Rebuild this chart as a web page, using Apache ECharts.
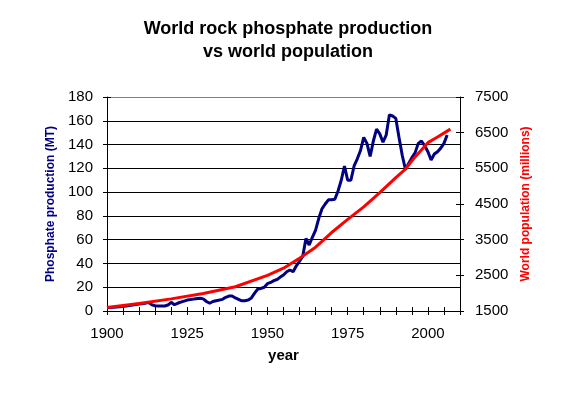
<!DOCTYPE html>
<html>
<head>
<meta charset="utf-8">
<script src="https://cdn.jsdelivr.net/npm/echarts@6/dist/echarts.min.js"></script>
<style>
html,body{margin:0;padding:0;background:#fff;}
#chart{width:576px;height:395px;}
</style>
</head>
<body>
<div id="chart"></div>
<script>
// ---- data ----
const phosYears = [1900,1902,1904,1906,1908,1910,1912,1913,1914,1915,1916,1918,1919,1920,1921,1922,1923,1925,1927,1929,1930,1931,1932,1933,1934,1936,1937,1938,1939,1940,1941,1942,1943,1944,1945,1946,1947,1948,1949,1950,1951,1952,1953,1954,1955,1956,1957,1958,1959,1960,1961,1962,1963,1964,1965,1966,1967,1968,1969,1970,1971,1972,1973,1974,1975,1976,1977,1978,1979,1980,1981,1982,1983,1984,1985,1986,1987,1988,1989,1990,1991,1992,1993,1994,1995,1996,1997,1998,1999,2000,2001,2002,2003,2004,2005,2006];
const phosValues = [3,3.2,3.6,4.3,5,5.8,6.6,7.2,5.2,4.4,4.2,4.2,5,7.3,5.3,6.5,7.5,9.2,10,10.7,10.2,8,6.5,8,8.6,9.8,11.5,12.6,12.6,11,9.8,8.6,8.6,9.2,11,15,18.5,19,20,23,24,25.5,26.5,28.5,30.3,33,34.5,33,38,42,46,61,55.5,62,68,78,86,90,93.5,93.5,94,101,110,122,110,110,122,128,135,146,141,130,143,153,149,142,148,165,164,162,146,131,119,124,129,133,141,143,139,134,127,132,134,137,141,148];
const popYears = [1900,1910,1920,1930,1940,1950,1955,1960,1965,1970,1975,1980,1985,1990,1993,1996,2000,2003,2007];
const popValues = [1600,1710,1840,1990,2180,2500,2700,2980,3290,3700,4070,4420,4820,5240,5480,5820,6220,6380,6600];
const titleLines = ['World rock phosphate production','vs world population'];
const leftAxisName = 'Phosphate production (MT)';
const rightAxisName = 'World population (millions)';
const xAxisName = 'year';

const FONT = 'Liberation Sans, Arial, sans-serif';
const phosData = phosYears.map((y,i)=>[y, phosValues[i]]);
const popData = popYears.map((y,i)=>[y, popValues[i]]);

const chart = echarts.init(document.getElementById('chart'), null, {renderer:'canvas'});
const tickHalf = 4;
const plain = v => String(v);
chart.setOption({
  animation:false,
  backgroundColor:'#ffffff',
  title:{
    text: titleLines.join('\n'),
    left:'center', top:13,
    textStyle:{fontFamily:FONT,fontSize:18,fontWeight:'bold',color:'#000',lineHeight:23}
  },
  grid:{left:107,right:116,top:97,bottom:84},
  xAxis:[
    {type:'value',position:'bottom',min:1900,max:2010,interval:5,
     name:xAxisName,nameLocation:'middle',nameGap:37,
     nameTextStyle:{fontFamily:FONT,fontSize:15,fontWeight:'bold',color:'#000'},
     axisLine:{show:true,onZero:false,lineStyle:{color:'#000',width:1}},
     axisTick:{show:true,inside:false,length:tickHalf,lineStyle:{color:'#000'}},
     axisLabel:{show:true,margin:15,fontFamily:FONT,fontSize:15,color:'#000',
       formatter:v=> (v%25===0 ? String(v) : '')},
     splitLine:{show:false}},
    {type:'value',position:'bottom',min:1900,max:2010,interval:5,
     axisLine:{show:false,onZero:false},
     axisTick:{show:true,inside:true,length:tickHalf,lineStyle:{color:'#000'}},
     axisLabel:{show:false},splitLine:{show:false}},
    {type:'value',position:'top',min:1900,max:2010,interval:5,
     axisLine:{show:true,onZero:false,lineStyle:{color:'#808080',width:1}},
     axisTick:{show:false},axisLabel:{show:false},splitLine:{show:false}}
  ],
  yAxis:[
    {type:'value',position:'left',min:0,max:180,interval:20,
     name:leftAxisName,nameLocation:'middle',nameRotate:90,nameGap:45,
     nameTextStyle:{fontFamily:FONT,fontSize:12,fontWeight:'bold',color:'#000080'},
     axisLine:{show:true,onZero:false,lineStyle:{color:'#000',width:1}},
     axisTick:{show:true,inside:false,length:tickHalf,lineStyle:{color:'#000'}},
     axisLabel:{margin:14,fontFamily:FONT,fontSize:15,color:'#000',formatter:plain},
     splitLine:{show:true,showMaxLine:false,lineStyle:{color:'#000',width:1}}},
    {type:'value',position:'right',min:1500,max:7500,interval:1000,
     name:rightAxisName,nameLocation:'middle',nameRotate:90,nameGap:50,
     nameTextStyle:{fontFamily:FONT,fontSize:12,fontWeight:'bold',color:'#ff0000'},
     axisLine:{show:true,onZero:false,lineStyle:{color:'#000',width:1}},
     axisTick:{show:true,inside:false,length:tickHalf,lineStyle:{color:'#000'}},
     axisLabel:{margin:15,fontFamily:FONT,fontSize:15,color:'#000',formatter:plain},
     splitLine:{show:false}},
    {type:'value',position:'left',min:0,max:180,interval:20,
     axisLine:{show:false,onZero:false},
     axisTick:{show:true,inside:true,length:tickHalf,lineStyle:{color:'#000'}},
     axisLabel:{show:false},splitLine:{show:false}},
    {type:'value',position:'right',min:1500,max:7500,interval:1000,
     axisLine:{show:false,onZero:false},
     axisTick:{show:true,inside:true,length:tickHalf,lineStyle:{color:'#000'}},
     axisLabel:{show:false},splitLine:{show:false}}
  ],
  series:[
    {name:'Phosphate production',type:'line',xAxisIndex:0,yAxisIndex:0,data:phosData,
     showSymbol:false,lineStyle:{color:'#000080',width:3},itemStyle:{color:'#000080'},z:3},
    {name:'World population',type:'line',xAxisIndex:0,yAxisIndex:1,data:popData,
     showSymbol:false,lineStyle:{color:'#ff0000',width:3},itemStyle:{color:'#ff0000'},z:4}
  ]
});
</script>
</body>
</html>
